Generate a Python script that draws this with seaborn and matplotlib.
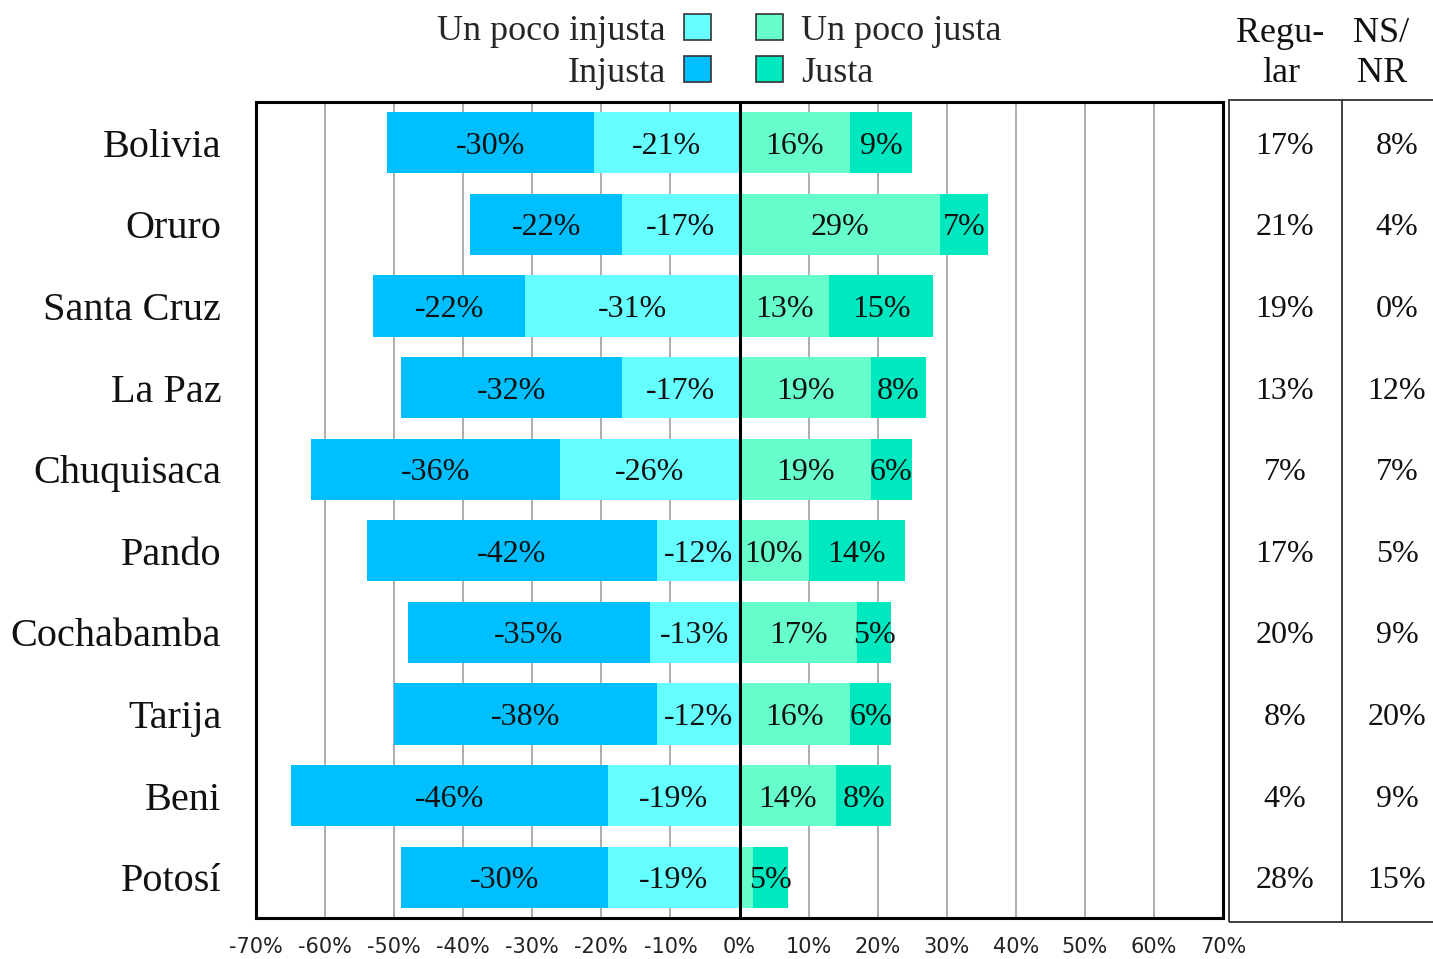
import matplotlib
matplotlib.use("Agg")
import matplotlib.pyplot as plt
import numpy as np
import pandas as pd
import seaborn as sns
from matplotlib.patches import Patch, Rectangle
from matplotlib.lines import Line2D
from matplotlib.transforms import blended_transform_factory

# Percepción de justicia por departamento (%)
departamentos = ["Bolivia", "Oruro", "Santa Cruz", "La Paz", "Chuquisaca",
                 "Pando", "Cochabamba", "Tarija", "Beni", "Potosí"]
injusta = [30, 22, 22, 32, 36, 42, 35, 38, 46, 30]
poco_injusta = [21, 17, 31, 17, 26, 12, 13, 12, 19, 19]
poco_justa = [16, 29, 13, 19, 19, 10, 17, 16, 14, 2]
justa = [9, 7, 15, 8, 6, 14, 5, 6, 8, 5]
regular = [17, 21, 19, 13, 7, 17, 20, 8, 4, 28]
ns_nr = [8, 4, 0, 12, 7, 5, 9, 20, 9, 15]
ticks = list(range(-70, 71, 10))
tick_labels = [f"{t}%" for t in ticks]

col_injusta = "#00BFFF"
col_poco_injusta = "#66FFFF"
col_poco_justa = "#66FFCC"
col_justa = "#00E8BF"

df = pd.DataFrame({
    "departamento": departamentos,
    "injusta": injusta,
    "poco_injusta": poco_injusta,
    "poco_justa": poco_justa,
    "justa": justa,
})
df["izq_total"] = -(df["injusta"] + df["poco_injusta"])
df["izq_interna"] = -df["poco_injusta"]
df["der_total"] = df["poco_justa"] + df["justa"]
df["der_interna"] = df["poco_justa"]

sns.set_theme(style="white")
SERIF = ["Liberation Serif", "DejaVu Serif"]
NARROW = ["Liberation Sans Narrow", "DejaVu Sans"]
plt.rcParams["font.family"] = SERIF

W, H = 1433, 959
fig = plt.figure(figsize=(W / 100, H / 100), dpi=100)
ax = fig.add_axes([256 / W, 1 - 918 / H, 967 / W, 816 / H])

bar_kw = dict(y="departamento", order=departamentos, orient="h", width=0.75,
              saturation=1, linewidth=0, ax=ax, zorder=2)
sns.barplot(data=df, x="izq_total", color=col_injusta, **bar_kw)
sns.barplot(data=df, x="izq_interna", color=col_poco_injusta, **bar_kw)
sns.barplot(data=df, x="der_total", color=col_justa, **bar_kw)
sns.barplot(data=df, x="der_interna", color=col_poco_justa, **bar_kw)

# Etiquetas de valor centradas en cada segmento
for i, row in df.iterrows():
    segs = [
        (-(row.poco_injusta + row.injusta / 2), -row.injusta),
        (-row.poco_injusta / 2, -row.poco_injusta),
        (row.poco_justa / 2, row.poco_justa),
        (row.poco_justa + row.justa / 2, row.justa),
    ]
    for xc, v in segs:
        if abs(v) < 3:
            continue
        ax.text(xc, i, f"{v}%", ha="center", va="center_baseline", fontsize=23,
                family=SERIF, color="#111111", zorder=4)

ax.axvline(0, color="black", lw=2.2, zorder=3)
ax.set_xlim(-70, 70)
ax.set_ylim(len(departamentos) - 0.5, -0.5)
ax.set_xticks(ticks)
ax.set_xticklabels(tick_labels, family=NARROW, fontsize=15, color="#222222")
ax.set_yticks(range(len(departamentos)))
ax.set_yticklabels(departamentos, family=SERIF, fontsize=29, color="#111111",
                   va="center_baseline")
ax.tick_params(axis="x", length=0, pad=14)
ax.tick_params(axis="y", length=0, pad=25)
ax.xaxis.grid(True, color="#a0a0a0", lw=1.2)
ax.yaxis.grid(False)
ax.set_axisbelow(True)
ax.set_xlabel("")
ax.set_ylabel("")
for s in ax.spines.values():
    s.set_visible(True)
    s.set_color("black")
    s.set_linewidth(2.2)

# Leyendas a ambos lados del cero
leg_kw = dict(frameon=False, handlelength=0.75, handleheight=0.75,
              handletextpad=0.5, labelspacing=0.22, borderpad=0, borderaxespad=0,
              prop={"family": SERIF, "size": 26})
h_left = [Patch(facecolor=col_poco_injusta, edgecolor="#333333", lw=1.2),
          Patch(facecolor=col_injusta, edgecolor="#333333", lw=1.2)]
h_right = [Patch(facecolor=col_poco_justa, edgecolor="#333333", lw=1.2),
           Patch(facecolor=col_justa, edgecolor="#333333", lw=1.2)]
fig.legend(h_left, ["Un poco injusta", "Injusta"], loc="upper right",
           bbox_to_anchor=(711 / W, 1 - 14 / H), markerfirst=False, **leg_kw)
fig.legend(h_right, ["Un poco justa", "Justa"], loc="upper left",
           bbox_to_anchor=(756 / W, 1 - 14 / H), markerfirst=True, **leg_kw)

# Tabla lateral: Regular y NS/NR
fig.add_artist(Rectangle((1229 / W, 1 - 922 / H), (W + 5 - 1229) / W, 822 / H,
                         transform=fig.transFigure, fill=False,
                         edgecolor="#333333", lw=1.3))
fig.add_artist(Line2D([1342 / W, 1342 / W], [1 - 922 / H, 1 - 100 / H],
                      transform=fig.transFigure, color="#333333", lw=1.3))
for txt, x, y in [("Regu-", 1280, 29), ("lar", 1281, 70), ("NS/", 1381, 29), ("NR", 1382, 70)]:
    fig.text(x / W, 1 - y / H, txt, ha="center", va="center_baseline", fontsize=26,
             family=SERIF, color="#111111")

tr = blended_transform_factory(fig.transFigure, ax.transData)
for i in range(len(departamentos)):
    ax.text(1285 / W, i, f"{regular[i]}%", transform=tr, ha="center",
            va="center_baseline", fontsize=23, family=SERIF, color="#111111",
            clip_on=False)
    ax.text(1397 / W, i, f"{ns_nr[i]}%", transform=tr, ha="center",
            va="center_baseline", fontsize=23, family=SERIF, color="#111111",
            clip_on=False)

fig.savefig("out.png", dpi=100, facecolor="white")
